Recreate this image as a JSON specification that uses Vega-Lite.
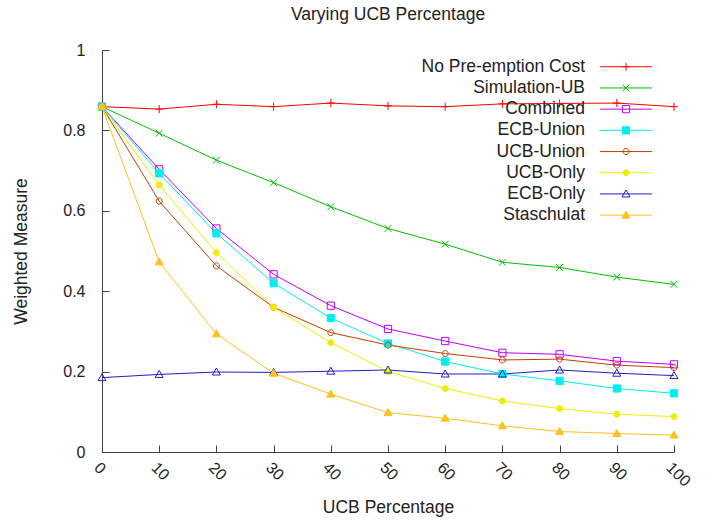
{
  "$schema": "https://vega.github.io/schema/vega-lite/v6.json",
  "width": 572,
  "height": 402,
  "autosize": {"type": "none"},
  "padding": {"left": 102, "top": 50, "right": 46, "bottom": 68},
  "background": "white",
  "title": {"text": "Varying UCB Percentage", "frame": "group", "anchor": "middle", "offset": 19, "fontSize": 17.5, "font": "Liberation Sans", "fontWeight": "normal", "color": "#222222"},
  "config": {"view": {"stroke": null}},
  "data": {"values": [
    {"pct": 0, "series": "No Pre-emption Cost", "value": 0.859},
    {"pct": 10, "series": "No Pre-emption Cost", "value": 0.853},
    {"pct": 20, "series": "No Pre-emption Cost", "value": 0.865},
    {"pct": 30, "series": "No Pre-emption Cost", "value": 0.859},
    {"pct": 40, "series": "No Pre-emption Cost", "value": 0.868},
    {"pct": 50, "series": "No Pre-emption Cost", "value": 0.861},
    {"pct": 60, "series": "No Pre-emption Cost", "value": 0.859},
    {"pct": 70, "series": "No Pre-emption Cost", "value": 0.866},
    {"pct": 80, "series": "No Pre-emption Cost", "value": 0.867},
    {"pct": 90, "series": "No Pre-emption Cost", "value": 0.868},
    {"pct": 100, "series": "No Pre-emption Cost", "value": 0.859},
    {"pct": 0, "series": "Simulation-UB", "value": 0.859},
    {"pct": 10, "series": "Simulation-UB", "value": 0.793},
    {"pct": 20, "series": "Simulation-UB", "value": 0.726},
    {"pct": 30, "series": "Simulation-UB", "value": 0.670},
    {"pct": 40, "series": "Simulation-UB", "value": 0.610},
    {"pct": 50, "series": "Simulation-UB", "value": 0.556},
    {"pct": 60, "series": "Simulation-UB", "value": 0.517},
    {"pct": 70, "series": "Simulation-UB", "value": 0.472},
    {"pct": 80, "series": "Simulation-UB", "value": 0.459},
    {"pct": 90, "series": "Simulation-UB", "value": 0.435},
    {"pct": 100, "series": "Simulation-UB", "value": 0.417},
    {"pct": 0, "series": "Combined", "value": 0.859},
    {"pct": 10, "series": "Combined", "value": 0.703},
    {"pct": 20, "series": "Combined", "value": 0.556},
    {"pct": 30, "series": "Combined", "value": 0.442},
    {"pct": 40, "series": "Combined", "value": 0.364},
    {"pct": 50, "series": "Combined", "value": 0.306},
    {"pct": 60, "series": "Combined", "value": 0.276},
    {"pct": 70, "series": "Combined", "value": 0.247},
    {"pct": 80, "series": "Combined", "value": 0.243},
    {"pct": 90, "series": "Combined", "value": 0.226},
    {"pct": 100, "series": "Combined", "value": 0.218},
    {"pct": 0, "series": "ECB-Union", "value": 0.859},
    {"pct": 10, "series": "ECB-Union", "value": 0.693},
    {"pct": 20, "series": "ECB-Union", "value": 0.544},
    {"pct": 30, "series": "ECB-Union", "value": 0.420},
    {"pct": 40, "series": "ECB-Union", "value": 0.333},
    {"pct": 50, "series": "ECB-Union", "value": 0.270},
    {"pct": 60, "series": "ECB-Union", "value": 0.225},
    {"pct": 70, "series": "ECB-Union", "value": 0.194},
    {"pct": 80, "series": "ECB-Union", "value": 0.177},
    {"pct": 90, "series": "ECB-Union", "value": 0.158},
    {"pct": 100, "series": "ECB-Union", "value": 0.146},
    {"pct": 0, "series": "UCB-Union", "value": 0.859},
    {"pct": 10, "series": "UCB-Union", "value": 0.624},
    {"pct": 20, "series": "UCB-Union", "value": 0.463},
    {"pct": 30, "series": "UCB-Union", "value": 0.360},
    {"pct": 40, "series": "UCB-Union", "value": 0.297},
    {"pct": 50, "series": "UCB-Union", "value": 0.266},
    {"pct": 60, "series": "UCB-Union", "value": 0.245},
    {"pct": 70, "series": "UCB-Union", "value": 0.229},
    {"pct": 80, "series": "UCB-Union", "value": 0.231},
    {"pct": 90, "series": "UCB-Union", "value": 0.216},
    {"pct": 100, "series": "UCB-Union", "value": 0.210},
    {"pct": 0, "series": "UCB-Only", "value": 0.859},
    {"pct": 10, "series": "UCB-Only", "value": 0.664},
    {"pct": 20, "series": "UCB-Only", "value": 0.496},
    {"pct": 30, "series": "UCB-Only", "value": 0.360},
    {"pct": 40, "series": "UCB-Only", "value": 0.272},
    {"pct": 50, "series": "UCB-Only", "value": 0.200},
    {"pct": 60, "series": "UCB-Only", "value": 0.158},
    {"pct": 70, "series": "UCB-Only", "value": 0.127},
    {"pct": 80, "series": "UCB-Only", "value": 0.108},
    {"pct": 90, "series": "UCB-Only", "value": 0.094},
    {"pct": 100, "series": "UCB-Only", "value": 0.088},
    {"pct": 0, "series": "ECB-Only", "value": 0.185},
    {"pct": 10, "series": "ECB-Only", "value": 0.193},
    {"pct": 20, "series": "ECB-Only", "value": 0.199},
    {"pct": 30, "series": "ECB-Only", "value": 0.198},
    {"pct": 40, "series": "ECB-Only", "value": 0.201},
    {"pct": 50, "series": "ECB-Only", "value": 0.204},
    {"pct": 60, "series": "ECB-Only", "value": 0.194},
    {"pct": 70, "series": "ECB-Only", "value": 0.194},
    {"pct": 80, "series": "ECB-Only", "value": 0.204},
    {"pct": 90, "series": "ECB-Only", "value": 0.196},
    {"pct": 100, "series": "ECB-Only", "value": 0.190},
    {"pct": 0, "series": "Staschulat", "value": 0.859},
    {"pct": 10, "series": "Staschulat", "value": 0.473},
    {"pct": 20, "series": "Staschulat", "value": 0.294},
    {"pct": 30, "series": "Staschulat", "value": 0.196},
    {"pct": 40, "series": "Staschulat", "value": 0.144},
    {"pct": 50, "series": "Staschulat", "value": 0.098},
    {"pct": 60, "series": "Staschulat", "value": 0.084},
    {"pct": 70, "series": "Staschulat", "value": 0.065},
    {"pct": 80, "series": "Staschulat", "value": 0.051},
    {"pct": 90, "series": "Staschulat", "value": 0.046},
    {"pct": 100, "series": "Staschulat", "value": 0.042}
  ]},
  "encoding": {
    "x": {"field": "pct", "type": "quantitative", "scale": {"domain": [0, 100], "nice": false, "zero": false},
      "axis": {"title": "UCB Percentage", "values": [0, 10, 20, 30, 40, 50, 60, 70, 80, 90, 100], "grid": false,
        "labelAngle": 45, "labelAlign": "left", "labelBaseline": "top", "labelFlush": false, "labelOverlap": false,
        "tickSize": -7, "labelPadding": 14, "domainColor": "#404040", "tickColor": "#404040",
        "labelFont": "Liberation Sans", "labelFontSize": 16, "labelColor": "#222222",
        "titleFont": "Liberation Sans", "titleFontSize": 17.5, "titleFontWeight": "normal", "titleColor": "#222222",
        "titleY": 60, "titleBaseline": "alphabetic"}},
    "y": {"field": "value", "type": "quantitative", "scale": {"domain": [0, 1], "nice": false},
      "axis": {"title": "Weighted Measure", "values": [0, 0.2, 0.4, 0.6, 0.8, 1], "format": ".1~f", "grid": false,
        "labelFlush": false, "labelOverlap": false,
        "tickSize": -7, "labelPadding": 24, "domainColor": "#404040", "tickColor": "#404040",
        "labelFont": "Liberation Sans", "labelFontSize": 16, "labelColor": "#222222",
        "titleFont": "Liberation Sans", "titleFontSize": 17.5, "titleFontWeight": "normal", "titleColor": "#222222",
        "titleX": -76, "titleBaseline": "alphabetic", "titleAngle": -90}}
  },
  "layer": [
    {
      "mark": {"type": "line", "strokeWidth": 1},
      "encoding": {
        "color": {"field": "series", "type": "nominal",
          "sort": ["No Pre-emption Cost", "Simulation-UB", "Combined", "ECB-Union", "UCB-Union", "UCB-Only", "ECB-Only", "Staschulat"],
          "scale": {"range": ["#ff0000", "#00c000", "#c000ff", "#00eeee", "#c04000", "#eeee00", "#2020c0", "#ffc020"]},
          "legend": {"orient": "none", "legendX": 515.25, "legendY": 8, "title": null, "padding": 0,
            "labelAlign": "right", "labelOffset": -49.75, "labelLimit": 400, "labelFont": "Liberation Sans", "labelFontSize": 17.5, "labelColor": "#222222",
            "symbolType": "M-4,0L4,0", "symbolSize": 169, "symbolStrokeWidth": 1, "symbolFillColor": "transparent", "rowPadding": 2.2}}
      }
    },
    {
      "mark": {"type": "point", "filled": true, "size": 64, "strokeWidth": 1, "opacity": 1},
      "encoding": {
        "shape": {"field": "series", "type": "nominal",
          "scale": {"domain": ["No Pre-emption Cost", "Simulation-UB", "Combined", "ECB-Union", "UCB-Union", "UCB-Only", "ECB-Only", "Staschulat"],
            "range": ["M-1,0L1,0M0,-1L0,1", "M-0.85,-0.85L0.85,0.85M-0.85,0.85L0.85,-0.85", "M-0.9,-0.9L0.9,-0.9L0.9,0.9L-0.9,0.9Z", "M-0.9,-0.9L0.9,-0.9L0.9,0.9L-0.9,0.9Z", "M0.75,0A0.75,0.75 0 1,1 -0.75,0A0.75,0.75 0 1,1 0.75,0Z", "M0.75,0A0.75,0.75 0 1,1 -0.75,0A0.75,0.75 0 1,1 0.75,0Z", "M0,-1L1,0.75L-1,0.75Z", "M0,-1L1,0.75L-1,0.75Z"]},
          "legend": {"orient": "none", "legendX": 515.25, "legendY": 8, "title": null, "padding": 0,
            "labelExpr": "''", "labelFont": "Liberation Sans", "labelFontSize": 17.5,
            "symbolSize": 64, "symbolStrokeWidth": 1, "rowPadding": 2.2}},
        "stroke": {"field": "series", "type": "nominal",
          "scale": {"domain": ["No Pre-emption Cost", "Simulation-UB", "Combined", "ECB-Union", "UCB-Union", "UCB-Only", "ECB-Only", "Staschulat"],
            "range": ["#ff0000", "#00c000", "#c000ff", "#00eeee", "#c04000", "#eeee00", "#2020c0", "#ffc020"]},
          "legend": {"orient": "none", "legendX": 515.25, "legendY": 8, "title": null, "padding": 0,
            "labelExpr": "''", "labelFont": "Liberation Sans", "labelFontSize": 17.5,
            "symbolSize": 64, "symbolStrokeWidth": 1, "rowPadding": 2.2}},
        "fill": {"field": "series", "type": "nominal",
          "scale": {"domain": ["No Pre-emption Cost", "Simulation-UB", "Combined", "ECB-Union", "UCB-Union", "UCB-Only", "ECB-Only", "Staschulat"],
            "range": ["#ff0000", "#00c000", "transparent", "#00eeee", "transparent", "#eeee00", "transparent", "#ffc020"]},
          "legend": {"orient": "none", "legendX": 515.25, "legendY": 8, "title": null, "padding": 0,
            "labelExpr": "''", "labelFont": "Liberation Sans", "labelFontSize": 17.5,
            "symbolSize": 64, "symbolStrokeWidth": 1, "rowPadding": 2.2}}
      }
    }
  ]
}
